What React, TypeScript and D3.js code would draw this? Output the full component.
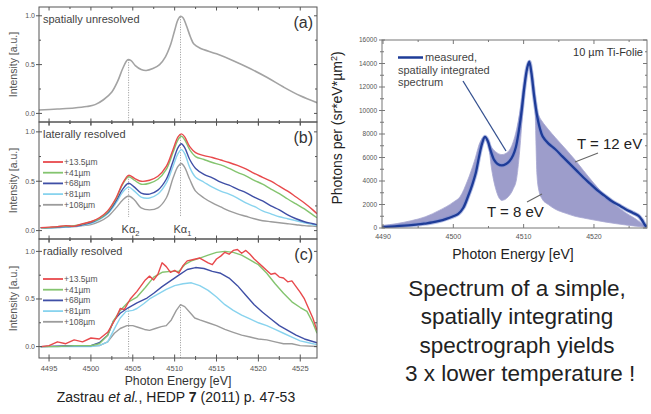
import React from 'react';
import * as d3 from 'd3';

// ---------- DATA: left figure ----------
const seriesNames = ['+13.5µm', '+41µm', '+68µm', '+81µm', '+108µm'];
const seriesColors = ['#e8494c', '#84c46f', '#3f4fa6', '#88d3ee', '#9c9c9c'];
const xTicksLeft = [4495, 4500, 4505, 4510, 4515, 4520, 4525];
const yTicksLeft = [0, 0.5, 1.0];
const kAlpha2 = 4504.5;
const kAlpha1 = 4510.7;

// (a) spatially unresolved
const unresolvedE = [4493.8, 4496, 4498, 4499.5, 4500.5, 4501.5, 4502.5, 4503.2, 4503.8, 4504.4, 4504.8, 4505.3, 4506.0, 4506.6, 4507.4, 4508.2, 4508.9, 4509.5, 4510.0, 4510.4, 4510.7, 4511.0, 4511.4, 4511.9, 4512.3, 4513.0, 4515, 4517, 4519, 4521, 4523, 4525, 4527];
const unresolvedI = [0.035, 0.045, 0.055, 0.07, 0.09, 0.14, 0.22, 0.33, 0.46, 0.55, 0.54, 0.49, 0.45, 0.44, 0.46, 0.50, 0.58, 0.70, 0.85, 0.96, 0.995, 0.98, 0.90, 0.78, 0.71, 0.67, 0.61, 0.54, 0.46, 0.37, 0.27, 0.18, 0.11];

// (b) laterally resolved (shared energy grid)
const lateralE = [4494, 4495, 4496, 4497, 4498, 4499, 4500, 4501, 4502, 4503, 4503.8, 4504.5, 4505.2, 4506, 4507, 4508, 4509, 4509.8, 4510.4, 4510.8, 4511.2, 4511.8, 4512.5, 4513.5, 4514.5, 4515.5, 4516.5, 4517.5, 4518.5, 4519.5, 4520.5, 4521.5, 4522.5, 4523.5, 4524.5, 4525.5, 4526.5, 4527];
const lateralRed = [0.03, 0.035, 0.04, 0.05, 0.045, 0.07, 0.09, 0.13, 0.20, 0.33, 0.48, 0.56, 0.53, 0.50, 0.51, 0.55, 0.65, 0.82, 0.95, 0.98, 0.95, 0.85, 0.79, 0.76, 0.74, 0.715, 0.69, 0.66, 0.625, 0.58, 0.54, 0.50, 0.45, 0.40, 0.34, 0.28, 0.21, 0.17];
const lateralGreen = [0.03, 0.03, 0.04, 0.045, 0.05, 0.065, 0.09, 0.12, 0.19, 0.32, 0.47, 0.545, 0.51, 0.47, 0.48, 0.52, 0.62, 0.79, 0.92, 0.955, 0.92, 0.82, 0.75, 0.72, 0.69, 0.665, 0.63, 0.59, 0.555, 0.51, 0.47, 0.42, 0.375, 0.32, 0.27, 0.22, 0.16, 0.13];
const lateralBlue = [0.03, 0.03, 0.035, 0.04, 0.045, 0.06, 0.08, 0.12, 0.18, 0.30, 0.42, 0.48, 0.44, 0.38, 0.37, 0.41, 0.52, 0.70, 0.84, 0.88, 0.84, 0.72, 0.63, 0.57, 0.535, 0.49, 0.46, 0.42, 0.385, 0.34, 0.30, 0.25, 0.21, 0.16, 0.12, 0.09, 0.07, 0.06];
const lateralCyan = [0.03, 0.025, 0.03, 0.035, 0.04, 0.055, 0.07, 0.11, 0.17, 0.28, 0.39, 0.44, 0.40, 0.34, 0.33, 0.37, 0.48, 0.65, 0.78, 0.82, 0.78, 0.64, 0.54, 0.49, 0.44, 0.40, 0.37, 0.33, 0.28, 0.245, 0.20, 0.17, 0.14, 0.12, 0.10, 0.08, 0.06, 0.05];
const lateralGray = [0.03, 0.03, 0.03, 0.035, 0.04, 0.05, 0.06, 0.09, 0.14, 0.23, 0.31, 0.35, 0.31, 0.23, 0.21, 0.23, 0.33, 0.53, 0.65, 0.68, 0.64, 0.52, 0.40, 0.33, 0.28, 0.24, 0.20, 0.17, 0.145, 0.12, 0.10, 0.09, 0.08, 0.07, 0.06, 0.05, 0.045, 0.04];

// (c) radially resolved
const radialRedE = [4494, 4495, 4496, 4497, 4498, 4499, 4500, 4501, 4502, 4503, 4503.5, 4504, 4504.7, 4505.5, 4506, 4506.5, 4507, 4507.5, 4508, 4508.5, 4509, 4509.5, 4510, 4510.5, 4511, 4511.5, 4512, 4513, 4514, 4514.5, 4515, 4515.5, 4516, 4516.5, 4517, 4517.5, 4518, 4518.5, 4519, 4519.5, 4520, 4520.5, 4521, 4521.5, 4522, 4522.5, 4523, 4523.5, 4524, 4524.5, 4525, 4525.5, 4526, 4526.5, 4527];
const radialRed = [0.0, 0.01, 0.05, 0.03, 0.07, 0.05, 0.09, 0.08, 0.15, 0.30, 0.40, 0.39, 0.50, 0.58, 0.64, 0.70, 0.74, 0.70, 0.76, 0.88, 0.84, 0.78, 0.80, 0.77, 0.85, 0.90, 0.91, 0.93, 0.88, 0.86, 0.92, 0.95, 0.99, 0.97, 1.01, 1.02, 0.98, 1.01, 0.97, 0.92, 0.88, 0.84, 0.80, 0.76, 0.77, 0.73, 0.72, 0.68, 0.69, 0.63, 0.57, 0.50, 0.40, 0.30, 0.17];
const radialGreenE = [4494, 4496, 4498, 4500, 4501, 4502, 4502.7, 4503.5, 4504.5, 4505.5, 4506.5, 4507.5, 4508.5, 4509.5, 4510.5, 4511.2, 4512, 4513, 4514, 4515, 4516, 4517, 4518, 4519, 4520, 4521, 4522, 4523, 4524, 4525, 4525.8, 4526.5, 4527];
const radialGreen = [0.0, 0.0, 0.01, 0.01, 0.03, 0.12, 0.27, 0.38, 0.47, 0.52, 0.62, 0.73, 0.78, 0.79, 0.79, 0.86, 0.90, 0.93, 0.96, 0.99, 1.0, 0.99, 0.96, 0.91, 0.86, 0.77, 0.66, 0.56, 0.47, 0.41, 0.37, 0.25, 0.14];
const radialBlueE = [4494, 4498, 4500, 4501, 4502, 4502.7, 4503.5, 4504.5, 4505.5, 4506.7, 4507.5, 4508.5, 4509.5, 4510.5, 4511.5, 4512.5, 4513.5, 4514.5, 4515.5, 4516.5, 4517.5, 4518.5, 4519.5, 4520.5, 4521.5, 4522.5, 4523.5, 4524.5, 4525.5, 4527];
const radialBlue = [0.0, 0.01, 0.01, 0.04, 0.12, 0.27, 0.35, 0.41, 0.46, 0.51, 0.56, 0.63, 0.69, 0.75, 0.81, 0.83, 0.82, 0.79, 0.77, 0.72, 0.64, 0.54, 0.44, 0.36, 0.29, 0.22, 0.17, 0.12, 0.08, 0.04];
const radialCyanE = [4494, 4500, 4501, 4502, 4503, 4503.5, 4504.2, 4505, 4505.5, 4506.3, 4507, 4508, 4509, 4510, 4511, 4512, 4513, 4514, 4515, 4516, 4517, 4518, 4519, 4520, 4521, 4522, 4523, 4524, 4525, 4526, 4527];
const radialCyan = [0.0, 0.0, 0.01, 0.05, 0.22, 0.30, 0.37, 0.38, 0.40, 0.45, 0.50, 0.55, 0.60, 0.64, 0.66, 0.67, 0.64, 0.59, 0.52, 0.44, 0.38, 0.33, 0.29, 0.25, 0.22, 0.18, 0.14, 0.10, 0.06, 0.04, 0.02];
const radialGrayE = [4494, 4501, 4502, 4502.8, 4503.5, 4504.3, 4505, 4505.7, 4506.4, 4507, 4507.7, 4508.4, 4509, 4509.6, 4510.2, 4510.7, 4511.2, 4511.8, 4512.4, 4513, 4514, 4515, 4516, 4517, 4518, 4519, 4520, 4521, 4522, 4523, 4524, 4525, 4527];
const radialGray = [0.0, 0.01, 0.05, 0.14, 0.19, 0.22, 0.22, 0.20, 0.18, 0.17, 0.19, 0.21, 0.22, 0.28, 0.38, 0.44, 0.42, 0.36, 0.30, 0.28, 0.25, 0.22, 0.18, 0.15, 0.12, 0.10, 0.08, 0.07, 0.05, 0.03, 0.03, 0.01, 0.0];

// ---------- DATA: right figure ----------
const xTicksRight = [4490, 4500, 4510, 4520];
const yTicksRight = [0, 2000, 4000, 6000, 8000, 10000, 12000, 14000, 16000];
const measuredE = [4489.8, 4491, 4492, 4493, 4494, 4495, 4496, 4497, 4498, 4499, 4500, 4500.7, 4501.4, 4502.1, 4502.7, 4503.2, 4503.7, 4504.1, 4504.5, 4504.9, 4505.3, 4505.8, 4506.3, 4506.9, 4507.5, 4508, 4508.5, 4508.9, 4509.3, 4509.7, 4510.1, 4510.5, 4510.8, 4511.1, 4511.5, 4511.9, 4512.3, 4512.7, 4513.5, 4514.5, 4515.5, 4516.5, 4517.5, 4518.5, 4519.5, 4520.5, 4521.5, 4522.5, 4523.5, 4524.5, 4525.5, 4526.3, 4526.8, 4527.2, 4527.5];
const measuredV = [70, 120, 160, 200, 250, 300, 380, 470, 600, 780, 1000, 1200, 1700, 2700, 3700, 4700, 6200, 7200, 7750, 7400, 6600, 5800, 5450, 5330, 5450, 5700, 6200, 6900, 8200, 9900, 12000, 13600, 14150, 13200, 11200, 9600, 8500, 7800, 7200, 6700, 6100, 5500, 4900, 4300, 3750, 3200, 2750, 2300, 1950, 1600, 1300, 1050, 700, 300, 100];
const bandE = [4489.8, 4492, 4494, 4496, 4498, 4500, 4501, 4502, 4503, 4503.8, 4504.5, 4505, 4505.4, 4506, 4506.9, 4507.8, 4508.5, 4509, 4509.5, 4510, 4510.4, 4510.8, 4511.2, 4511.6, 4511.9, 4512.2, 4512.6, 4513.5, 4514.5, 4516, 4517.3, 4518.5, 4520, 4521.5, 4523, 4524.5, 4526, 4527.3];
const bandT12 = [200, 380, 620, 950, 1500, 2200, 2700, 4000, 5700, 7300, 7800, 7300, 6900, 6500, 6250, 6500, 7300, 8400, 10000, 12000, 13300, 14100, 13200, 11300, 10000, 9500, 9100, 8400, 7700, 6700, 5800, 4900, 3800, 2800, 1950, 1300, 750, 150];
const bandT8 = [60, 150, 250, 400, 620, 1000, 1350, 2600, 4400, 6900, 7700, 7100, 5200, 3400, 2350, 2650, 3300, 4200, 7000, 11000, 13300, 14100, 13000, 10500, 4500, 3100, 2500, 2000, 1600, 1250, 1000, 850, 680, 520, 380, 260, 150, 60];
const explanationLines = ['Spectrum of a simple,', 'spatially integrating', 'spectrograph yields', ' 3 x lower temperature !'];

const FONT = "'Liberation Sans', Arial, Helvetica, sans-serif";

const zip = (xs: number[], ys: number[]) => xs.map((x, i) => [x, ys[i]] as [number, number]);

type Series = { pts: [number, number][]; color: string; width?: number };

function LeftPanel(props: {
  top: number; bottom: number; yDomain: [number, number];
  series: Series[]; title: string; tag: string; curve: any;
  legend?: boolean; peakMarks: [number, number, number, number][]; xLabels?: boolean; kLabels?: boolean;
}) {
  const { top, bottom, yDomain, series, title, tag, curve, legend, peakMarks, xLabels, kLabels } = props;
  const x = d3.scaleLinear().domain([4493.8, 4527]).range([39, 317]);
  const y = d3.scaleLinear().domain(yDomain).range([bottom, top]);
  const line = d3.line<[number, number]>().x(d => x(d[0])).y(d => y(d[1])).curve(curve);
  const minor: number[] = d3.range(4495, 4527, 2.5);
  const yMinor = [0.25, 0.75];
  const frame = '#555';
  const legendTop = top + 40;
  return (
    <g>
      <defs>
        <clipPath id={'clip' + tag}>
          <rect x={39} y={top} width={278} height={bottom - top} />
        </clipPath>
      </defs>
      {peakMarks.map(([e, y1v, y2v], i) => (
        <line key={'pk' + i} x1={x(e)} x2={x(e)} y1={y(y1v)} y2={y2v} stroke="#888" strokeWidth={0.9} strokeDasharray="1,1.5" />
      ))}
      <g clipPath={`url(#clip${tag})`}>
        {series.map((s, i) => (
          <path key={i} d={line(s.pts) || ''} fill="none" stroke={s.color} strokeWidth={s.width ?? 1.4} strokeLinejoin="round" />
        ))}
      </g>
      <rect x={39} y={top} width={278} height={bottom - top} fill="none" stroke={frame} strokeWidth={1} />
      {minor.map((e, i) => {
        const major = Math.abs(e % 5) < 0.01;
        const len = major ? 3.5 : 2;
        return (
          <g key={'xt' + i}>
            <line x1={x(e)} x2={x(e)} y1={bottom - len} y2={bottom + len} stroke={frame} strokeWidth={1} />
            <line x1={x(e)} x2={x(e)} y1={top} y2={top + len} stroke={frame} strokeWidth={1} />
          </g>
        );
      })}
      {yTicksLeft.map((v, i) => (
        <g key={'yt' + i}>
          <line x1={36} x2={42} y1={y(v)} y2={y(v)} stroke={frame} strokeWidth={1} />
          <line x1={314} x2={317} y1={y(v)} y2={y(v)} stroke={frame} strokeWidth={1} />
          <text x={35} y={y(v) + 2.5} fontSize={7} textAnchor="end" fill="#555" fontFamily={FONT}>{v.toFixed(1)}</text>
        </g>
      ))}
      {yMinor.map((v, i) => (
        <g key={'ym' + i}>
          <line x1={39} x2={41} y1={y(v)} y2={y(v)} stroke={frame} strokeWidth={1} />
          <line x1={315} x2={317} y1={y(v)} y2={y(v)} stroke={frame} strokeWidth={1} />
        </g>
      ))}
      <text transform={`translate(17,${(top + bottom) / 2}) rotate(-90)`} fontSize={10.5} textAnchor="middle" fill="#555" fontFamily={FONT}>Intensity [a.u.]</text>
      <text x={43} y={top + 16} fontSize={11} fill="#444" fontFamily={FONT}>{title}</text>
      <text x={313} y={top + 21} fontSize={16} fill="#333" textAnchor="end" fontFamily={FONT}>({tag})</text>
      {legend && seriesNames.map((n, i) => (
        <g key={'lg' + i}>
          <line x1={43} x2={63} y1={legendTop + i * 10.7} y2={legendTop + i * 10.7} stroke={seriesColors[i]} strokeWidth={1.8} />
          <text x={64} y={legendTop + i * 10.7 + 3} fontSize={8.5} fill="#555" fontFamily={FONT}>{n}</text>
        </g>
      ))}
      {kLabels && (
        <g fontFamily={FONT} fill="#444" fontSize={11}>
          <text x={x(kAlpha2) - 7} y={bottom - 6}>Kα<tspan fontSize={7.5} dy={3}>2</tspan></text>
          <text x={x(kAlpha1) - 7} y={bottom - 6}>Kα<tspan fontSize={7.5} dy={3}>1</tspan></text>
        </g>
      )}
      {xLabels && xTicksLeft.map((e, i) => (
        <text key={'xl' + i} x={x(e)} y={bottom + 12.5} fontSize={7.5} textAnchor="middle" fill="#555" fontFamily={FONT}>{e}</text>
      ))}
    </g>
  );
}

function RightChart() {
  const x = d3.scaleLinear().domain([4490, 4527.5]).range([383, 646.7]);
  const y = d3.scaleLinear().domain([0, 16000]).range([228, 40]);
  const band = zip(bandE, bandT8).map((d, i) => ({ e: d[0], lo: d[1], hi: bandT12[i] }));
  const area = d3.area<{ e: number; lo: number; hi: number }>().x(d => x(d.e)).y0(d => y(d.lo)).y1(d => y(d.hi)).curve(d3.curveMonotoneX);
  const line = d3.line<[number, number]>().x(d => x(d[0])).y(d => y(d[1])).curve(d3.curveCatmullRom);
  const measured = zip(measuredE, measuredV);
  const frame = '#777';
  const xMinor = d3.range(4490, 4528, 5);
  const yMinor = d3.range(0, 16001, 1000);
  return (
    <g fontFamily={FONT}>
      <defs>
        <clipPath id="clipR"><rect x={382} y={40} width={265} height={188} /></clipPath>
      </defs>
      <g clipPath="url(#clipR)">
        <path d={area(band) || ''} fill="#9d9dcb" stroke="#a8a8d2" strokeWidth={0.8} />
        <path d={line(measured) || ''} fill="none" stroke="#7d8ed0" strokeWidth={4.2} strokeOpacity={0.6} strokeLinejoin="round" />
        <path d={line(measured) || ''} fill="none" stroke="#1e3c98" strokeWidth={2.3} strokeLinejoin="round" />
      </g>
      <rect x={382} y={40} width={265} height={188} fill="none" stroke={frame} strokeWidth={1} />
      {xMinor.map((e, i) => {
        const major = e % 10 === 0;
        return (
          <g key={'rx' + i}>
            <line x1={x(e)} x2={x(e)} y1={228} y2={major ? 224 : 226} stroke={frame} />
            <line x1={x(e)} x2={x(e)} y1={40} y2={major ? 44 : 42} stroke={frame} />
          </g>
        );
      })}
      {xTicksRight.map((e, i) => (
        <text key={'rxl' + i} x={x(e)} y={239} fontSize={7} textAnchor="middle" fill="#555">{e}</text>
      ))}
      {yMinor.map((v, i) => {
        const major = v % 2000 === 0;
        return (
          <g key={'ry' + i}>
            <line x1={major ? 379 : 380} x2={major ? 385 : 384} y1={y(v)} y2={y(v)} stroke={frame} />
            <line x1={major ? 643 : 645} x2={647} y1={y(v)} y2={y(v)} stroke={frame} />
          </g>
        );
      })}
      {yTicksRight.map((v, i) => (
        <text key={'ryl' + i} x={377} y={y(v) + 2.3} fontSize={6.5} textAnchor="end" fill="#555">{v}</text>
      ))}
      <text x={513} y={259} fontSize={14} textAnchor="middle" fill="#222">Photon Energy [eV]</text>
      <text transform="translate(342,128) rotate(-90)" fontSize={14} textAnchor="middle" fill="#222">Photons per (sr*eV*µm<tspan fontSize={9} dy={-5}>2</tspan><tspan dy={5}>)</tspan></text>
      <text x={643} y={56} fontSize={11} textAnchor="end" fill="#333">10 µm Ti-Folie</text>
      <line x1={398} x2={423} y1={57.5} y2={57.5} stroke="#1e3c98" strokeWidth={2.5} />
      <text x={425} y={61} fontSize={11} fill="#444">measured,</text>
      <text x={398} y={74} fontSize={11} fill="#444">spatially integrated</text>
      <text x={398} y={86} fontSize={11} fill="#444">spectrum</text>
      <line x1={463} y1={81} x2={506} y2={151} stroke="#34508f" strokeWidth={1.3} />
      <text x={577} y={149} fontSize={15} fill="#222">T = 12 eV</text>
      <line x1={598} y1={153} x2={575} y2={162} stroke="#666" strokeWidth={1.1} />
      <text x={487} y={217} fontSize={15} fill="#222">T = 8 eV</text>
      <line x1={527} y1={202} x2={542} y2={194} stroke="#666" strokeWidth={1.1} />
    </g>
  );
}

export default function App() {
  const redC = [zip(radialRedE, radialRed), zip(radialGreenE, radialGreen), zip(radialBlueE, radialBlue), zip(radialCyanE, radialCyan), zip(radialGrayE, radialGray)];
  const latSeries = [lateralRed, lateralGreen, lateralBlue, lateralCyan, lateralGray];
  return (
    <svg width={651} height={414} style={{ position: 'absolute', left: 0, top: 0, background: '#fff' }}>
      <rect x={0} y={0} width={651} height={414} fill="#fff" />
      <LeftPanel top={7} bottom={122} yDomain={[-0.088, 1.09]} tag="a" title="spatially unresolved" curve={d3.curveCatmullRom}
        series={[{ pts: zip(unresolvedE, unresolvedI), color: '#a3a3a3', width: 1.6 }]}
        peakMarks={[[kAlpha2, 0.55, 122, 0], [kAlpha1, 0.99, 122, 0]]} />
      <LeftPanel top={122} bottom={239} yDomain={[-0.085, 1.1]} tag="b" title="laterally resolved" curve={d3.curveCatmullRom} legend kLabels
        series={latSeries.map((s, i) => ({ pts: zip(lateralE, s), color: seriesColors[i] })).reverse()}
        peakMarks={[[kAlpha2, 0.55, 217, 0], [kAlpha1, 0.97, 216, 0]]} />
      <LeftPanel top={239} bottom={358} yDomain={[-0.12, 1.13]} tag="c" title="radially resolved" curve={d3.curveLinear} legend xLabels
        series={redC.map((p, i) => ({ pts: p, color: seriesColors[i] })).reverse()}
        peakMarks={[[kAlpha2, 0.40, 358, 0], [kAlpha1, 0.44, 358, 0]]} />
      <text x={178} y={385} fontSize={12.3} textAnchor="middle" fill="#333" fontFamily={FONT}>Photon Energy [eV]</text>
      <text x={176} y={402} fontSize={14} textAnchor="middle" fill="#222" fontFamily={FONT}>
        Zastrau <tspan fontStyle="italic">et al.</tspan>, HEDP <tspan fontWeight="bold">7</tspan> (2011) p. 47-53
      </text>
      <RightChart />
      {explanationLines.map((t, i) => (
        <text key={'ex' + i} x={517} y={296 + i * 28.3} fontSize={22.5} textAnchor="middle" fill="#222" fontFamily={FONT} style={{ whiteSpace: 'pre' }}>{t}</text>
      ))}
    </svg>
  );
}
